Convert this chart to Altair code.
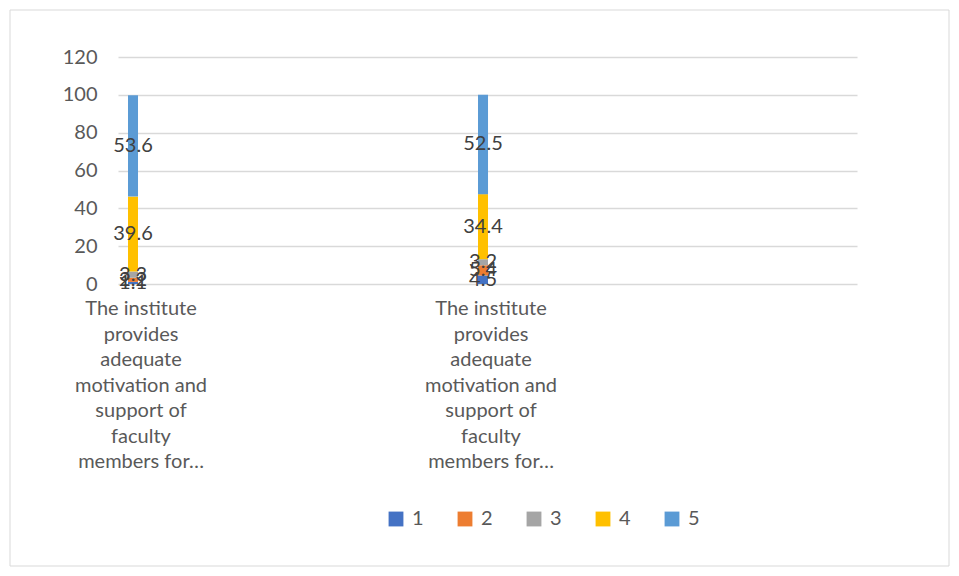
import altair as alt
import pandas as pd

# ---- data ----
cat_ids = ["Q1", "Q2"]
cat_label = "The institute\nprovides\nadequate\nmotivation and\nsupport of\nfaculty\nmembers for…"
series = ["1", "2", "3", "4", "5"]
q1_values = [1.1, 2.2, 3.3, 39.6, 53.6]
q2_values = [4.5, 5.4, 3.2, 34.4, 52.5]
colors = ["#4472C4", "#ED7D31", "#A5A5A5", "#FFC000", "#5B9BD5"]
y_ticks = [0, 20, 40, 60, 80, 100, 120]

rows = []
for cid, vals in zip(cat_ids, [q1_values, q2_values]):
    for i, (s, v) in enumerate(zip(series, vals)):
        rows.append({"cat": cid, "series": s, "order": i, "value": v})
df = pd.DataFrame(rows)
labels_df = pd.DataFrame({"cat": cat_ids, "label": [cat_label, cat_label]})
frame_df = pd.DataFrame({"k": [0]})

FONT = "Lato"
W, H = 739, 227

xscale = alt.Scale(domain=cat_ids, paddingInner=0.9714, paddingOuter=0.5414, align=0.0264)
yscale = alt.Scale(domain=[0, 120], nice=False)
yaxis = alt.Axis(values=y_ticks, title=None, domain=False, ticks=False,
                 labelOverlap=False, labelPadding=21, labelFontSize=20,
                 labelFont=FONT, labelColor="#595959", grid=True,
                 gridColor="#d9d9d9", gridWidth=1.5)

base = alt.Chart(df)

bars = base.mark_bar().encode(
    x=alt.X("cat:N", scale=xscale, axis=None),
    y=alt.Y("sum(value):Q", scale=yscale, stack="zero", axis=yaxis),
    color=alt.Color("series:N", scale=alt.Scale(domain=series, range=colors),
                    legend=alt.Legend(title=None, orient="none", direction="horizontal",
                                      legendX=268, legendY=452, symbolType="square",
                                      symbolSize=220, symbolStrokeWidth=0,
                                      labelFontSize=20, labelFont=FONT,
                                      labelColor="#595959", labelOffset=6,
                                      columnPadding=31)),
    order=alt.Order("order:Q", sort="ascending"),
)

texts = base.transform_stack(
    stack="value", groupby=["cat"], as_=["y0", "y1"],
    sort=[alt.SortField("order", order="ascending")]
).transform_calculate(
    mid="(datum.y0 + datum.y1) / 2"
).mark_text(fontSize=20, font=FONT, color="#404040", baseline="middle").encode(
    x=alt.X("cat:N", scale=xscale, axis=None),
    y=alt.Y("mid:Q", scale=yscale, axis=yaxis),
    text=alt.Text("value:Q", format=".1f"),
)

cat_text = alt.Chart(labels_df).mark_text(
    fontSize=20, font=FONT, color="#595959", lineBreak="\n", lineHeight=25.5,
    baseline="middle", align="center", dx=8
).encode(
    x=alt.X("cat:N", scale=xscale, axis=None),
    y=alt.value(H + 25),
    text="label:N",
)

frame = alt.Chart(frame_df).mark_rect(fill="white", fillOpacity=0, stroke="#d9d9d9",
                                      strokeWidth=1).encode(
    x=alt.value(-108), x2=alt.value(831), y=alt.value(-47), y2=alt.value(509)
)

chart = alt.layer(frame, bars, texts, cat_text).properties(
    width=W, height=H,
    autosize=alt.AutoSizeParams(type="none"),
    padding={"left": 110, "top": 49, "right": 94, "bottom": 284},
    background="white",
).configure_view(stroke=None)

chart.save("out.html", embed_options={"renderer": "svg", "actions": False})
